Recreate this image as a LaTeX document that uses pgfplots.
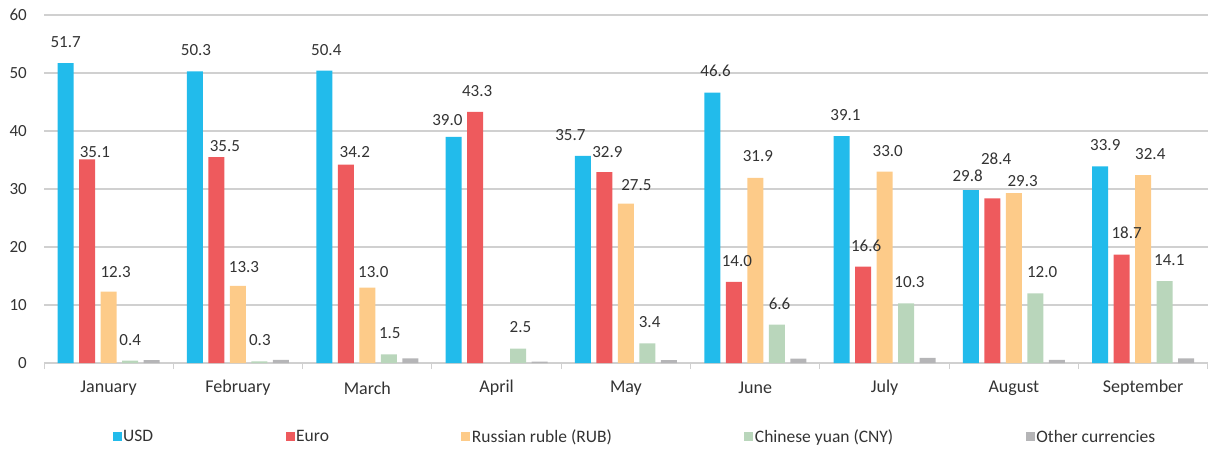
\documentclass[border=0pt]{standalone}
\usepackage{pgfplots}
\pgfplotsset{compat=1.18}
\usepackage{pgfplotstable}
\usepackage{fontspec}
\setmainfont{Carlito}

\definecolor{usdc}{RGB}{34,187,235}
\definecolor{eurc}{RGB}{238,90,93}
\definecolor{rubc}{RGB}{253,203,137}
\definecolor{cnyc}{RGB}{185,214,187}
\definecolor{othc}{RGB}{181,181,183}
\definecolor{txt}{RGB}{51,51,51}
\definecolor{gridc}{RGB}{208,208,208}

% month index, share (%), label offsets dx, dy (pt)
\pgfplotstableread{
x y dx dy
0 51.7 0 20.8
1 50.3 1 21.3
2 50.4 2 20.7
3 39.0 -6.2 16.8
4 35.7 -12.6 20.9
5 46.6 3.3 21.7
6 39.1 3.9 21.2
7 29.8 -3.2 14.2
8 33.9 5.1 21.4
}\usd
\pgfplotstableread{
x y dx dy
0 35.1 7.7 7.7
1 35.5 8.4 11.1
2 34.2 9 12.9
3 43.3 2 20.9
4 32.9 2.9 20.5
5 14.0 3.1 21.1
6 16.6 3.1 20.7
7 28.4 3.7 39.3
8 18.7 4.9 22.2
}\eur
\pgfplotstableread{
x y dx dy
0 12.3 7 20
1 13.3 6 18.6
2 13.0 6 15.3
4 27.5 10.4 18.5
5 31.9 2.6 22.2
6 33.0 3.2 20.9
7 29.3 8.8 12.1
8 32.4 7.1 21.1
}\rub
\pgfplotstableread{
x y dx dy
0 0.4 0 20.7
1 0.3 0.4 21.3
2 1.5 1 21
3 2.5 2.3 21.2
4 3.4 2.2 21.6
5 6.6 2.8 20.7
6 10.3 3.4 21.6
7 12.0 6.7 21.1
8 14.1 4.6 21.2
}\cny
\pgfplotstableread{
x y
0 0.5
1 0.55
2 0.8
3 0.25
4 0.5
5 0.75
6 0.9
7 0.55
8 0.8
}\oth

\pgfplotsset{
  labelled/.style={
    nodes near coords={\pgfmathprintnumber[fixed,fixed zerofill,precision=1]{\pgfplotspointmeta}},
    visualization depends on={\thisrow{dx} \as \ldx},
    visualization depends on={\thisrow{dy} \as \ldy},
    nodes near coords style={anchor=center, inner sep=0pt, text=txt,
      font=\fontsize{17}{20}\selectfont, xshift=\ldx pt, yshift=\ldy pt},
  },
}

\begin{document}
\begin{tikzpicture}
\path[use as bounding box] (0,0) rectangle (1208pt,450pt);
\begin{axis}[
  at={(44pt,87pt)}, anchor=south west,
  scale only axis, width=1164pt, height=348pt,
  ybar, bar width=16pt,
  xmin=-0.5, xmax=8.5, ymin=0, ymax=60,
  ytick={0,10,...,60},
  xtick={0,...,8},
  xticklabels={January,February,March,April,May,June,July,August,September},
  extra x ticks={-0.5,0.5,...,8.5},
  extra x tick labels={},
  extra x tick style={major tick length=6pt, tick align=outside,
    tick style={draw=gridc, line width=1pt}},
  tick pos=left,
  major tick length=0pt,
  axis line style={draw=none},
  ymajorgrids,
  grid style={draw=gridc, line width=1.2pt},
  /pgf/number format/assume math mode=true,
  tick label style={text=txt, font=\fontsize{17}{20}\selectfont},
  yticklabel style={anchor=east, inner sep=0pt, xshift=-17pt},
  xticklabel style={anchor=center, inner sep=0pt, yshift=-25pt,
    font=\fontsize{18}{21}\selectfont},
  clip=false,
  legend columns=5,
  legend style={at={(0.5075,-0.2126)}, anchor=center, draw=none, fill=none,
    font=\fontsize{17.5}{20}\selectfont, text=txt,
    nodes={inner sep=1.5pt},
    /tikz/every even column/.append style={column sep=131pt}},
  legend image code/.code={\fill[#1,draw=none] (0pt,-4.5pt) rectangle (9pt,4.5pt);},
]
\addplot[fill=usdc, draw=none, bar shift=-43pt, labelled] table[x=x,y=y] {\usd};
\addlegendentry{USD}
\addplot[fill=eurc, draw=none, bar shift=-21.5pt, labelled] table[x=x,y=y] {\eur};
\addlegendentry{Euro}
\addplot[fill=rubc, draw=none, bar shift=0pt, labelled] table[x=x,y=y] {\rub};
\addlegendentry{Russian ruble (RUB)}
\addplot[fill=cnyc, draw=none, bar shift=21.5pt, labelled] table[x=x,y=y] {\cny};
\addlegendentry{Chinese yuan (CNY)}
\addplot[fill=othc, draw=none, bar shift=43pt] table[x=x,y=y] {\oth};
\addlegendentry{Other currencies}
\end{axis}
\end{tikzpicture}
\end{document}
